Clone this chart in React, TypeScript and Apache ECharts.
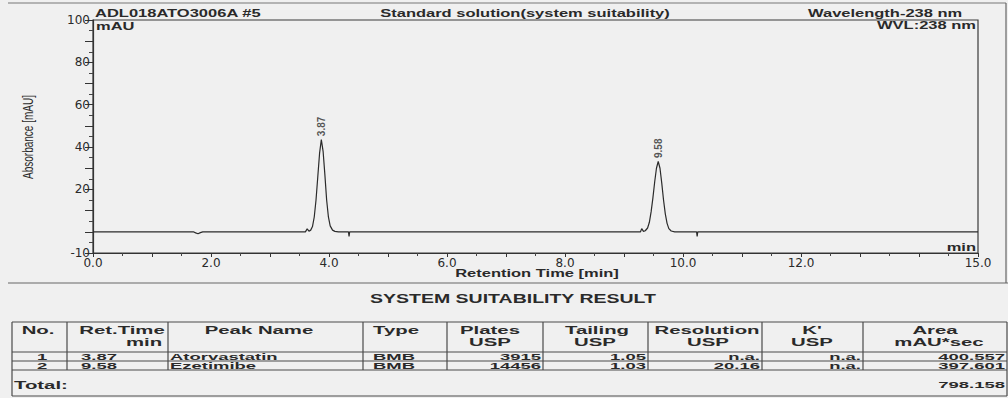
import React, { useEffect, useRef } from "react";
import * as echarts from "echarts";

// ---- chromatogram trace (time in min, absorbance in mAU) ----
const curveTimes = [0, 1.70, 1.74, 1.78, 1.82, 1.86, 3.60, 3.63, 3.66, 3.69, 3.72, 3.75, 3.78, 3.81, 3.84, 3.87, 3.90, 3.93, 3.96, 3.99, 4.02, 4.06, 4.10, 4.16, 4.33, 4.34, 4.35, 9.28, 9.30, 9.33, 9.36, 9.40, 9.43, 9.46, 9.49, 9.52, 9.55, 9.58, 9.61, 9.64, 9.67, 9.70, 9.73, 9.76, 9.80, 9.86, 10.23, 10.24, 10.25, 15];
const curveValues = [0, 0, -0.5, -0.9, -0.4, 0, 0, 1.4, 0.3, 0.8, 2.5, 7, 15, 26, 37, 43.5, 38, 27, 15, 7, 2.8, 0.8, 0.2, 0, 0, -2.2, 0, 0, 1.5, 0.2, 0.5, 1.8, 4.5, 9.5, 16, 23.5, 30, 33.2, 30, 23, 15, 8.5, 4, 1.5, 0.4, 0, 0, -2.2, 0, 0];

// ---- peaks / result table ----
const peakNos = ["1", "2"];
const retTimes = [3.87, 9.58];
const peakApex = [43.5, 33.2];
const peakNames = ["Atorvastatin", "Ezetimibe"];
const peakTypes = ["BMB", "BMB"];
const platesUSP = ["3915", "14456"];
const tailingUSP = ["1.05", "1.03"];
const resolutionUSP = ["n.a.", "20.16"];
const kPrimeUSP = ["n.a.", "n.a."];
const areas = ["400.557", "397.601"];
const totalArea = "798.158";

// ---- tick labels ----
const xLabelValues = [0, 2, 4, 6, 8, 10, 12, 15];
const yLabelValues = [-10, 20, 40, 60, 80, 100];

const TXT = "#2a2a2a";
const LINE = "#4a4a4a";
const ARIAL = '"Liberation Sans", Arial, sans-serif';
const AXFONT = '"DejaVu Sans", sans-serif';

type TO = { sx?: number; sy?: number; rot?: number; size?: number; bold?: boolean; align?: string };
const T = (text: string, x: number, y: number, o: TO = {}) => ({
  type: "text",
  x,
  y,
  scaleX: o.sx ?? 1.5,
  scaleY: o.sy ?? 1,
  rotation: o.rot ?? 0,
  silent: true,
  style: {
    text,
    x: 0,
    y: 0,
    fill: TXT,
    fontSize: o.size ?? 11,
    fontWeight: o.bold === false ? "normal" : "bold",
    fontFamily: ARIAL,
    align: o.align ?? "left",
    verticalAlign: "middle",
  },
});
const L = (x1: number, y1: number, x2: number, y2: number, w = 1.2, c = LINE) => ({
  type: "line",
  silent: true,
  shape: { x1, y1, x2, y2 },
  style: { stroke: c, lineWidth: w },
});

function buildGraphic() {
  const g: any[] = [];
  // header frame and texts
  g.push(L(8, 3, 1006, 3, 1, "#777"));
  g.push(L(1006, 3, 1006, 283, 1.2, "#666"));
  g.push(T("ADL018ATO3006A #5", 95, 13));
  g.push(T("Standard solution(system suitability)", 525, 13, { align: "center" }));
  g.push(T("Wavelength-238 nm", 808, 13));
  g.push(T("WVL:238 nm", 976, 25, { align: "right" }));
  g.push(T("mAU", 96, 26));
  g.push(T("min", 976, 247, { align: "right" }));
  g.push(T("Retention Time [min]", 537, 273, { align: "center" }));
  g.push(T("Absorbance [mAU]", 28, 137, { align: "center", rot: Math.PI / 2, sx: 1, sy: 1.5, size: 10, bold: false }));

  // separator + table title
  g.push(L(8, 283, 1008, 283, 1.2, "#666"));
  g.push(T("SYSTEM SUITABILITY RESULT", 513, 299, { align: "center", size: 13 }));

  // table grid
  const top = 322, hdrBot = 352, r1 = 361, r2 = 370, bot = 396;
  const cols = [12, 67, 168, 363, 447, 543, 648, 762, 863, 1007];
  [top, hdrBot, r1, r2, bot].forEach((y) => g.push(L(12, y, 1007, y)));
  cols.forEach((x, i) => {
    const yEnd = i === 0 || i === cols.length - 1 ? bot : r2;
    g.push(L(x, top, x, yEnd));
  });

  // header texts
  const h1 = 330, h2 = 342;
  const hs = { sx: 1.85, align: "center" };
  g.push(T("No.", 38, h1, hs));
  g.push(T("Ret.Time", 122, h1, hs));
  g.push(T("min", 144, h2, hs));
  g.push(T("Peak Name", 259, h1, hs));
  g.push(T("Type", 396, h1, hs));
  g.push(T("Plates", 490, h1, hs));
  g.push(T("USP", 490, h2, hs));
  g.push(T("Tailing", 597, h1, hs));
  g.push(T("USP", 595, h2, hs));
  g.push(T("Resolution", 707, h1, hs));
  g.push(T("USP", 708, h2, hs));
  g.push(T("K'", 812, h1, hs));
  g.push(T("USP", 812, h2, hs));
  g.push(T("Area", 935, h1, hs));
  g.push(T("mAU*sec", 939, h2, hs));

  // data rows
  const rowY = [357, 366];
  const ds = { sx: 2.05, size: 9 };
  peakNos.forEach((no, i) => {
    const y = rowY[i];
    g.push(T(no, 42, y, { ...ds, align: "center" }));
    g.push(T(retTimes[i].toFixed(2), 99, y, { ...ds, align: "center" }));
    g.push(T(peakNames[i], 170, y, { ...ds, align: "left" }));
    g.push(T(peakTypes[i], 394, y, { ...ds, align: "center" }));
    g.push(T(platesUSP[i], 541, y, { ...ds, align: "right" }));
    g.push(T(tailingUSP[i], 646, y, { ...ds, align: "right" }));
    g.push(T(resolutionUSP[i], 760, y, { ...ds, align: "right" }));
    g.push(T(kPrimeUSP[i], 861, y, { ...ds, align: "right" }));
    g.push(T(areas[i], 1005, y, { ...ds, align: "right" }));
  });
  g.push(T("Total:", 14, 385, { sx: 1.85, align: "left" }));
  g.push(T(totalArea, 1005, 385, { ...ds, align: "right" }));
  return g;
}

export default function App() {
  const ref = useRef<HTMLDivElement>(null);
  useEffect(() => {
    if (!ref.current) return;
    const chart = echarts.init(ref.current, undefined, { renderer: "svg" });
    const traceData = curveTimes.map((t, i) => [t, curveValues[i]]);
    const apexData = retTimes.map((t, i) => [t, peakApex[i]]);
    chart.setOption({
      animation: false,
      backgroundColor: "#f0f0f0",
      grid: {
        left: 93,
        top: 20,
        width: 885,
        height: 233,
        show: true,
        borderColor: "#3a3a3a",
        borderWidth: 1.2,
        backgroundColor: "transparent",
      },
      xAxis: {
        type: "value",
        min: 0,
        max: 15,
        interval: 1,
        axisLine: { show: true, onZero: false, lineStyle: { color: "#333", width: 1.2 } },
        axisTick: { show: true, length: 4, lineStyle: { color: "#333" } },
        minorTick: { show: true, splitNumber: 2, length: 3, lineStyle: { color: "#444" } },
        splitLine: { show: false },
        axisLabel: {
          formatter: (v: number) => (xLabelValues.includes(v) ? v.toFixed(1) : ""),
          color: TXT,
          fontSize: 12,
          fontFamily: AXFONT,
          margin: 4,
        },
      },
      yAxis: {
        type: "value",
        min: -10,
        max: 100,
        interval: 10,
        axisLine: { show: true, onZero: false, lineStyle: { color: "#333", width: 1.2 } },
        axisTick: { show: true, length: 8, lineStyle: { color: "#333" } },
        minorTick: { show: true, splitNumber: 2, length: 4, lineStyle: { color: "#444" } },
        splitLine: { show: false },
        axisLabel: {
          formatter: (v: number) => (yLabelValues.includes(v) ? String(v) : ""),
          color: TXT,
          fontSize: 12,
          fontFamily: AXFONT,
          margin: 3,
        },
      },
      series: [
        {
          type: "line",
          data: traceData,
          showSymbol: false,
          symbol: "none",
          lineStyle: { color: "#2b2b2b", width: 1.2 },
          silent: true,
        },
        {
          type: "scatter",
          data: apexData,
          symbolSize: 1,
          itemStyle: { color: "rgba(0,0,0,0)" },
          silent: true,
          label: {
            show: true,
            position: "top",
            distance: 3,
            rotate: 90,
            align: "left",
            verticalAlign: "middle",
            formatter: (p: any) => p.value[0].toFixed(2),
            fontSize: 10,
            fontWeight: "bold",
            fontFamily: ARIAL,
            color: TXT,
          },
        },
      ],
      graphic: buildGraphic(),
    });
    return () => chart.dispose();
  }, []);
  return (
    <div
      ref={ref}
      style={{ position: "absolute", left: 0, top: 0, width: 1008, height: 398, background: "#f0f0f0" }}
    />
  );
}
